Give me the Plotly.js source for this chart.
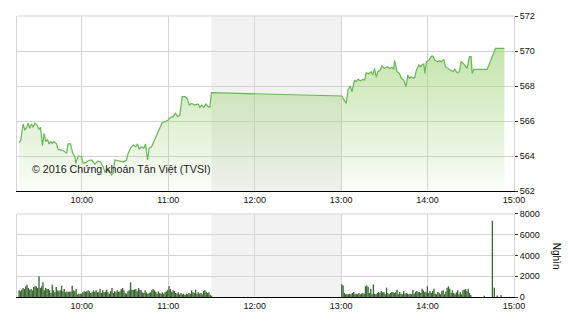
<!DOCTYPE html>
<html><head><meta charset="utf-8">
<script src="https://cdn.plot.ly/plotly-3.0.1.min.js"></script>
<style>html,body{margin:0;padding:0;background:#fff}#chart{width:570px;height:320px}</style>
</head><body><div id="chart"></div>
<script>
const DAY = '2016-06-01 ';

const priceTimes = [
'09:16:28','09:17:38','09:19:14','09:20:25','09:21:36','09:22:43','09:23:53','09:25:04','09:26:11','09:27:22',
'09:28:58','09:30:21','09:31:19','09:32:42','09:33:49','09:35:00','09:36:11','09:37:17','09:38:28','09:39:39',
'09:40:46','09:42:26','09:43:32','09:45:54','09:48:11','09:49:22','09:50:29','09:52:09','09:53:32','09:55:08',
'09:55:50','09:57:26','09:59:47','10:00:54','10:02:47','10:04:22','10:06:44','10:09:02','10:11:19','10:12:59',
'10:14:47','10:16:11','10:17:34','10:18:57','10:20:37','10:21:44','10:22:55','10:25:12','10:28:41','10:31:02',
'10:32:09','10:33:49','10:35:37','10:37:30','10:38:41','10:39:47','10:41:27','10:43:03','10:44:14','10:45:37',
'10:46:44','10:48:24','10:50:00','10:51:52','10:53:41','10:55:46','10:57:38','10:59:56','11:01:36','11:03:24',
'11:05:04','11:06:27','11:08:03','11:09:39','11:11:32','11:13:07','11:14:31','11:16:11','11:18:28','11:20:45',
'11:21:56','11:23:07','11:24:43','11:26:07','11:27:42','11:28:53','11:30:00',
'13:00:30','13:03:32','13:04:43','13:06:18','13:07:29','13:09:18','13:10:28','13:11:39','13:13:27','13:15:07',
'13:16:20','13:17:25','13:19:01','13:20:54','13:22:05','13:23:11','13:24:22','13:25:33','13:27:09','13:28:20',
'13:30:08','13:32:01','13:33:36','13:35:16','13:36:30','13:37:10','13:38:50','13:40:26','13:41:49','13:43:29',
'13:45:05','13:46:16','13:47:23','13:48:34','13:49:57','13:51:08','13:52:14','13:53:55','13:55:01','13:56:12',
'13:57:23','13:58:05','13:59:11','14:00:51','14:02:27','14:03:38','14:05:01','14:06:37','14:08:13','14:09:36',
'14:11:16','14:12:23','14:14:03','14:15:51','14:17:44','14:18:55','14:20:31','14:22:07','14:23:17','14:24:41',
'14:25:52','14:27:28','14:29:03','14:30:14','14:30:56','14:32:07','14:41:21','14:47:07','14:53:22'
];
const priceValues = [
564.76,564.90,565.83,565.50,565.60,565.87,565.58,565.83,565.64,565.87,
565.77,565.52,565.64,564.59,565.30,564.82,564.95,564.69,564.82,564.72,
564.82,564.69,564.38,564.34,564.25,564.15,564.69,564.69,564.19,563.96,
563.58,564.00,563.96,563.58,563.62,563.73,563.77,563.54,563.71,563.64,
563.39,563.05,563.30,563.20,562.91,563.00,563.77,563.73,563.67,563.77,
564.15,564.44,564.63,564.53,564.69,564.38,564.53,564.44,564.69,563.77,
564.44,564.53,564.82,565.20,565.58,565.90,565.96,566.06,566.21,566.25,
566.44,566.25,566.34,567.39,567.39,567.30,566.91,567.00,566.91,566.97,
566.78,566.91,566.78,566.97,566.82,566.78,567.62,
567.43,567.00,567.77,568.00,567.67,568.34,568.25,568.38,568.30,568.38,
568.34,568.76,568.69,568.82,568.63,569.01,568.50,568.82,568.91,569.14,
569.01,569.10,569.00,569.07,568.95,569.45,568.82,568.72,568.44,568.34,
567.96,568.63,568.44,568.53,568.44,568.50,568.91,569.20,569.10,569.20,
569.26,568.72,569.39,569.45,569.68,569.71,569.49,569.39,569.45,569.39,
569.52,569.10,569.01,568.91,568.82,568.95,568.76,568.82,569.39,569.30,
569.20,569.01,569.68,569.68,568.72,568.95,568.95,570.15,570.15
];

// volume (thousand shares), one bar per trade interval
const morningVolume = [
640,550,710,870,770,1030,1190,870,710,770, 640,960,1030,1030,870,1990,870,1030,1410,640,
870,770,770,640,390,1190,640,450,960,640, 550,640,1090,550,770,450,510,510,510,510,
1090,640,550,770,220,320,320,320,450,550, 510,550,640,550,390,450,640,510,640,450,
450,770,390,640,450,510,710,450,320,580, 870,390,550,450,640,510,550,770,870,640,
390,320,550,640,1410,710,710,710,770,550, 870,710,640,450,390,640,450,320,390,450,
640,770,640,510,320,550,390,320,450,320, 450,550,710,1030,770,510,640,580,390,320,
450,260,390,260,320,190,320,260,390,320, 640,450,390,710,320,450,320,390,260,580,
640,510,390,450,220,130
];
const afternoonVolume = [
1220,1120,390,260,260,260,320,260,390,480, 260,320,260,390,260,320,390,320,1030,1120,
960,390,800,260,1220,320,260,390,480,390, 580,450,480,260,900,390,260,390,480,450,
390,450,710,260,480,320,260,580,320,390, 320,260,320,260,710,320,480,580,450,480,
390,800,640,450,510,1030,390,580,390,580, 800,320,260,480,390,260,580,640,260,510,
900,1030,800,390,640,390,260,450,640,260, 480,260,640,710,770,580,800,390,190
];
const closingTimes = ['14:39:20','14:45:00','14:46:20','14:48:20','14:51:00'];
const closingVolume = [130,7350,900,150,200];

const morningSession = ['09:16:00','11:30:30'];
const afternoonSession = ['13:00:00','14:30:30'];
const breakPeriod = ['11:30','13:00'];
const xTickLabels = ['10:00','11:00','12:00','13:00','14:00','15:00'];
const priceTicks = [562,564,566,568,570,572];
const volumeTicks = [0,2000,4000,6000,8000];
const xRange = ['09:15','15:00'];
const watermark = '© 2016 Chứng khoán Tân Việt (TVSI)';
const volumeUnit = 'Nghìn';

function toMs(t){const p=t.split(':').map(Number);return Date.UTC(2016,5,1,p[0],p[1],p[2]||0);}
function msToStr(ms){return new Date(ms).toISOString().replace('T',' ').slice(0,19);}
function spread(session, n){ // evenly spaced time slots across a trading session
  const a=toMs(session[0]), b=toMs(session[1]), step=(b-a)/n, out=[];
  for(let i=0;i<n;i++) out.push(msToStr(a+step*(i+0.5)));
  return out;
}
const volTimes = spread(morningSession, morningVolume.length)
  .concat(spread(afternoonSession, afternoonVolume.length))
  .concat(closingTimes.map(t=>DAY+t));
const volValues = morningVolume.concat(afternoonVolume, closingVolume);

const FONT = 'Liberation Sans, Arial, sans-serif';
const GRID = '#d5d5d5';
const TXT = '#111';

const price = {
  type:'scatter', mode:'lines', x: priceTimes.map(t=>DAY+t), y: priceValues,
  xaxis:'x', yaxis:'y', line:{color:'#6ab657', width:1.2},
  fill:'tozeroy',
  fillgradient:{type:'vertical', start:562, stop:570.5,
    colorscale:[[0,'rgba(160,212,120,0.04)'],[1,'rgba(160,212,120,0.64)']]},
  hoverinfo:'skip'
};
const volume = {
  type:'bar', x: volTimes, y: volValues, xaxis:'x2', yaxis:'y2',
  width: 56000, marker:{color:'#3b6830', line:{width:0}}, hoverinfo:'skip'
};

const xCommon = {
  type:'date', range: xRange.map(t=>DAY+t),
  tickvals: xTickLabels.map(t=>DAY+t), ticktext: xTickLabels,
  showgrid:true, gridcolor:GRID, gridwidth:1, zeroline:false,
  showline:true, linecolor:'#000', linewidth:1, ticks:'',
  tickfont:{family:FONT, size:9, color:TXT}, automargin:false
};
const yCommon = {
  side:'right', showgrid:true, gridcolor:GRID, gridwidth:1, zeroline:false,
  showline:true, linecolor:GRID, linewidth:1, mirror:true,
  ticks:'outside', ticklen:3, tickcolor:'#333',
  tickfont:{family:FONT, size:9, color:TXT}, automargin:false
};

const layout = {
  width:570, height:320,
  margin:{l:17, r:56, t:16, b:23},
  paper_bgcolor:'#fff', plot_bgcolor:'#fff', showlegend:false,
  font:{family:FONT, size:9, color:TXT},
  xaxis: Object.assign({}, xCommon, {anchor:'y'}),
  xaxis2: Object.assign({}, xCommon, {anchor:'y2'}),
  yaxis: Object.assign({}, yCommon, {domain:[0.3772,1], range:[562,572], tickvals:priceTicks}),
  yaxis2: Object.assign({}, yCommon, {domain:[0,0.2954], range:[0,8000], tickvals:volumeTicks}),
  shapes:[
    {type:'rect', xref:'x', yref:'y domain', x0:DAY+breakPeriod[0], x1:DAY+breakPeriod[1], y0:0, y1:1,
     fillcolor:'#f2f2f2', line:{width:0}, layer:'below'},
    {type:'rect', xref:'x2', yref:'y2 domain', x0:DAY+breakPeriod[0], x1:DAY+breakPeriod[1], y0:0, y1:1,
     fillcolor:'#f2f2f2', line:{width:0}, layer:'below'},
    {type:'line', xref:'x domain', yref:'y domain', x0:0, x1:1, y0:1, y1:1, line:{color:GRID, width:1}},
    {type:'line', xref:'x2 domain', yref:'y2 domain', x0:0, x1:1, y0:1, y1:1, line:{color:GRID, width:1}}
  ],
  annotations:[
    {text:watermark, xref:'paper', yref:'paper', x:0.027, y:0.4555, xanchor:'left', yanchor:'middle',
     showarrow:false, font:{family:FONT, size:10.7, color:'#1a1a1a'}},
    {text:volumeUnit, xref:'paper', yref:'paper', x:1.087, y:0.1459, xanchor:'center', yanchor:'middle',
     textangle:90, showarrow:false, font:{family:FONT, size:10, color:TXT}}
  ]
};

Plotly.newPlot('chart', [price, volume], layout, {staticPlot:true, displayModeBar:false});
</script></body></html>
